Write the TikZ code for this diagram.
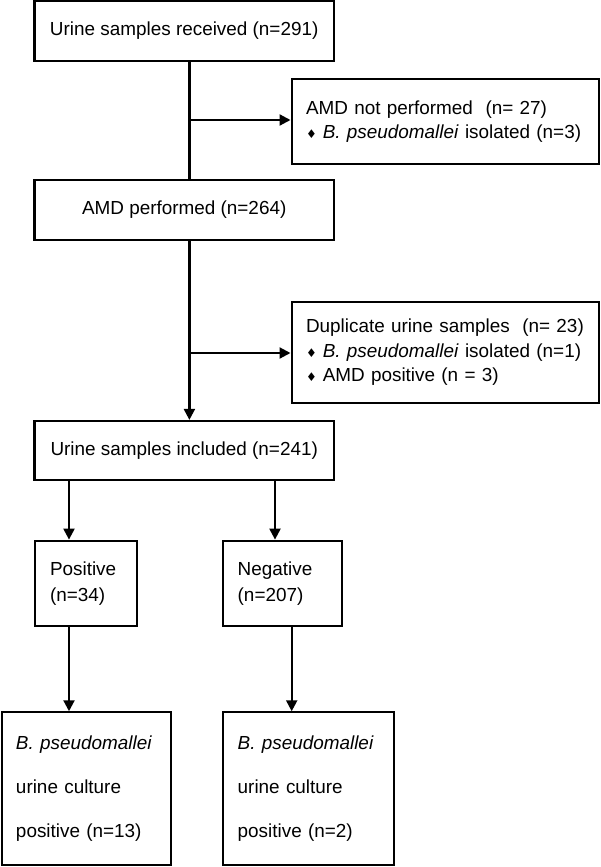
\documentclass[tikz,border=0pt]{standalone}
\usepackage{fontspec}
\setmainfont{Liberation Sans}
\newfontfamily\symfont{DejaVu Sans}
\usetikzlibrary{arrows.meta}
\newcommand\dmd{{\symfont\fontsize{12}{12}\selectfont ♦}\hspace{6pt}}
\begin{document}
\begin{tikzpicture}[x=1pt,y=-1pt,
  every node/.style={font=\fontsize{18.9}{24.5}\selectfont},
  box/.style={draw, line width=2.2pt, inner sep=0pt, align=center},
  lbox/.style={draw, line width=2.2pt, inner ysep=0pt, align=left},
  conn/.style={line width=2.2pt},
  arr/.style={line width=2.2pt, -{Triangle[length=11pt,width=11pt]}}]
\useasboundingbox (0,0) rectangle (600,867);
% boxes
\node[box, minimum width=299.6pt, minimum height=60pt] (b1) at (184.2,31) {Urine samples received (n=291)};
\node[lbox, minimum width=307.4pt, minimum height=85pt, inner xsep=14.4pt, text width=278.6pt] (b2) at (445.3,121.5)
  {AMD not performed~~(n= 27)\\ \dmd\textit{B. pseudomallei} isolated (n=3)};
\node[box, minimum width=299.6pt, minimum height=60pt] (b3) at (184.2,210) {AMD performed (n=264)};
\node[lbox, minimum width=307.4pt, minimum height=101.3pt, inner xsep=14.4pt, text width=278.6pt] (b4) at (445.3,352.3)
  {Duplicate urine samples~~(n= 23)\\ \dmd\textit{B. pseudomallei} isolated (n=1)\\ \dmd AMD positive (n = 3)};
\node[box, minimum width=299.6pt, minimum height=59pt] (b5) at (184.2,450.5) {Urine samples included (n=241)};
\node[lbox, minimum width=101.7pt, minimum height=85pt, inner xsep=15pt, text width=71.7pt,
  font=\fontsize{18.9}{26}\selectfont] (b6) at (85.85,583.2) {Positive\\(n=34)};
\node[lbox, minimum width=119.6pt, minimum height=85pt, inner xsep=15pt, text width=89.6pt,
  font=\fontsize{18.9}{26}\selectfont] (b7) at (282.5,583.2) {Negative\\(n=207)};
\node[lbox, minimum width=169.3pt, minimum height=152.7pt, inner xsep=14.3pt, text width=140.7pt,
  font=\fontsize{18.9}{44}\selectfont] (b8) at (86.35,788.7) {\textit{B. pseudomallei}\\urine culture\\positive (n=13)};
\node[lbox, minimum width=171.6pt, minimum height=152.7pt, inner xsep=15pt, text width=141.6pt,
  font=\fontsize{18.9}{44}\selectfont] (b9) at (308.5,788.7) {\textit{B. pseudomallei}\\urine culture\\positive (n=2)};
% connector coordinates
\coordinate (s1) at (189.4,120);
\coordinate (s2) at (189.4,353);
\coordinate (c6) at (69,500);
\coordinate (c7) at (275,500);
\coordinate (c9) at (291.7,650);
% connectors
\draw[conn] (b1.south -| s1) -- (b3.north -| s1);
\draw[arr] (s1) -- (b2.west |- s1);
\draw[arr] (b3.south -| s2) -- (b5.north -| s2);
\draw[arr] (s2) -- (b4.west |- s2);
\draw[arr] (b5.south -| c6) -- (b6.north -| c6);
\draw[arr] (b5.south -| c7) -- (b7.north -| c7);
\draw[arr] (b6.south -| c6) -- (b8.north -| c6);
\draw[arr] (b7.south -| c9) -- (b9.north -| c9);
\end{tikzpicture}
\end{document}
